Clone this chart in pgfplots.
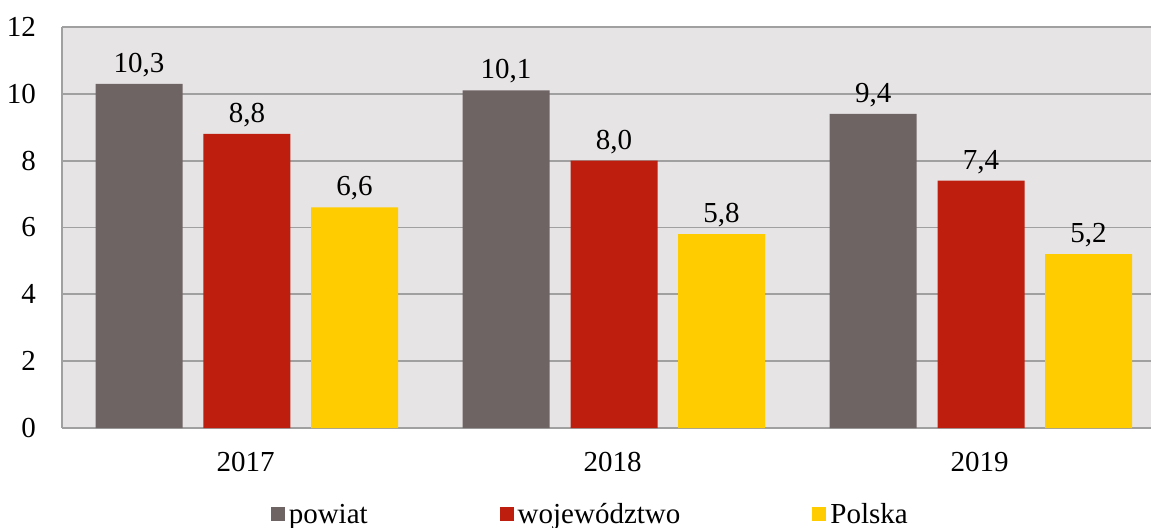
\documentclass[border=0pt]{standalone}
\usepackage{pgfplots}
\pgfplotsset{compat=1.18}
\usepackage{fontspec}
\setmainfont{Liberation Serif}
\definecolor{bg}{HTML}{E7E4E5}
\definecolor{cgray}{HTML}{6F6464}
\definecolor{cred}{HTML}{BE1E0E}
\definecolor{cyel}{HTML}{FFCC00}
\definecolor{gridc}{HTML}{A0A0A0}
\begin{document}
\begin{tikzpicture}
\useasboundingbox (-31pt,-49.5pt) rectangle (544.5pt,214pt);
\begin{axis}[
 at={(0,0)}, anchor=south west,
 width=544.5pt, height=200.5pt, scale only axis,
 xmin=-0.5, xmax=2.467, ymin=0, ymax=12,
 xtick={0,1,2}, xticklabels={2017,2018,2019},
 ytick={0,2,...,12},
 ymajorgrids, grid style={gridc, line width=0.9pt},
 axis x line*=bottom, axis y line*=left,
 axis line style={gridc, line width=0.9pt, -},
 major tick length=0,
 tick label style={font=\fontsize{14.5}{17}\selectfont},
 /pgf/number format/assume math mode=true,
 yticklabel style={xshift=-9.5pt},
 xticklabel style={yshift=-8.5pt},
 axis background/.style={fill=bg},
 ybar, bar width=0.237,
 nodes near coords={\pgfmathprintnumber[fixed, fixed zerofill, precision=1, use comma]{\pgfplotspointmeta}},
 nodes near coords style={font=\fontsize{14.5}{17}\selectfont, black},
 legend style={at={(axis description cs:0.486,-0.217)}, anchor=center, draw=none, fill=none,
   legend columns=3, font=\fontsize{14.5}{17}\selectfont,
   /tikz/every even column/.append style={column sep=64pt}},
 legend image code/.code={\fill[#1,draw=none] (0pt,-3pt) rectangle (7pt,4pt);},
]
\addplot[fill=cgray, draw=none, bar shift=-0.29] coordinates {(0,10.3) (1,10.1) (2,9.4)};
\addplot[fill=cred, draw=none, bar shift=0.004] coordinates {(0,8.8) (1,8.0) (2,7.4)};
\addplot[fill=cyel, draw=none, bar shift=0.297] coordinates {(0,6.6) (1,5.8) (2,5.2)};
\legend{powiat, województwo, Polska}
\end{axis}
\end{tikzpicture}
\end{document}
